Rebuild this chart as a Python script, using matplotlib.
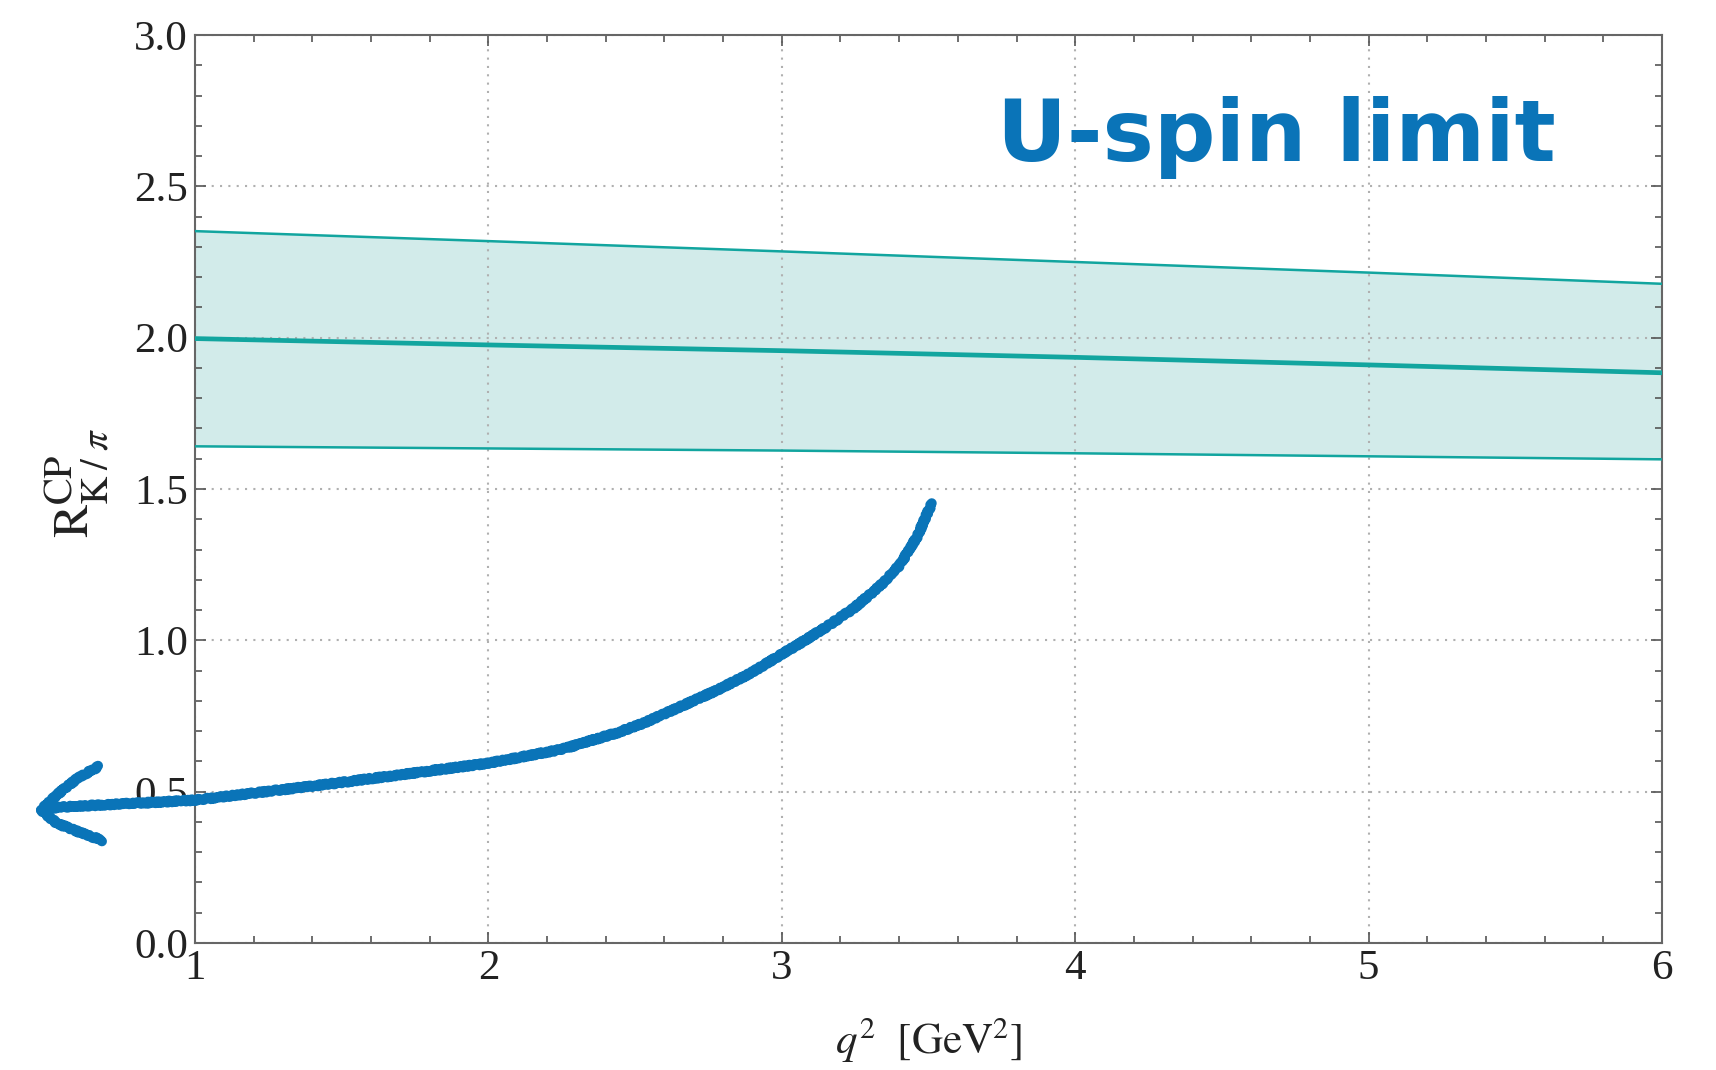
import numpy as np
import matplotlib
matplotlib.use("Agg")
import matplotlib.pyplot as plt
from matplotlib.ticker import MultipleLocator

# --- data ---
q2 = [1.0, 2.0, 3.0, 4.0, 5.0, 6.0]
upper = [2.352, 2.319, 2.285, 2.250, 2.215, 2.178]
central = [1.997, 1.976, 1.957, 1.935, 1.910, 1.884]
lower = [1.641, 1.634, 1.627, 1.618, 1.608, 1.598]

arrow_x = [3.511, 3.460, 3.403, 3.335, 3.244, 3.153, 3.062, 3.001, 2.891, 2.778,
           2.664, 2.530, 2.440, 2.250, 2.000, 1.480, 1.000, 0.560, 0.500]
arrow_y = [1.453, 1.340, 1.250, 1.180, 1.105, 1.045, 0.990, 0.955, 0.890, 0.835,
           0.785, 0.727, 0.695, 0.640, 0.594, 0.528, 0.472, 0.450, 0.445]
barb_up_x = [0.475, 0.53, 0.60, 0.671]
barb_up_y = [0.439, 0.490, 0.545, 0.583]
barb_dn_x = [0.475, 0.53, 0.61, 0.684]
barb_dn_y = [0.439, 0.395, 0.365, 0.339]

xticks = [1, 2, 3, 4, 5, 6]
yticks = [0.0, 0.5, 1.0, 1.5, 2.0, 2.5, 3.0]

plt.rcParams['mathtext.fontset'] = 'stix'
plt.rcParams['font.family'] = ['Liberation Serif', 'DejaVu Serif']

teal = '#12a59f'
fill = '#d2ebea'
blue = '#0a74b8'

W, H = 1716, 1070
fig = plt.figure(figsize=(W / 100, H / 100), dpi=100)
ax = fig.add_axes([195/W, 1 - 943/H, (1662-195)/W, (943-35)/H])

ax.fill_between(q2, lower, upper, color=fill, lw=0, zorder=1)
ax.plot(q2, upper, color=teal, lw=1.8, zorder=3)
ax.plot(q2, lower, color=teal, lw=1.8, zorder=3)
ax.plot(q2, central, color=teal, lw=3.4, zorder=3)

ax.set_xlim(1, 6)
ax.set_ylim(0, 3)
ax.set_xticks(xticks)
ax.set_yticks(yticks)
ax.set_xticklabels([str(t) for t in xticks])
ax.set_yticklabels([f"{t:.1f}" for t in yticks])
ax.xaxis.set_minor_locator(MultipleLocator(0.2))
ax.yaxis.set_minor_locator(MultipleLocator(0.1))
ax.tick_params(which='both', direction='in', top=True, right=True, colors='#555555',
               labelcolor='#222222', labelsize=31, width=1.2)
ax.tick_params(which='major', length=8, pad=5)
ax.tick_params(which='minor', length=5)
ax.grid(True, which='major', color='#b0b0b0', linestyle=(0, (1, 3)), lw=1.5, zorder=0)
for s in ax.spines.values():
    s.set_color('#666666')
    s.set_linewidth(1.5)

ax.set_xlabel(r'$q^2\ \ [\mathrm{GeV}^2]$', fontsize=31, labelpad=20, color='#222222')

# y label built from pieces (large super/subscripts as in the reference)
lab = dict(rotation=90, color='#222222', ha='center', va='bottom')
fig.text(76/W, 1 - 538/H, r'$\mathrm{R}$', fontsize=36, **lab)
fig.text(62/W, 1 - 505/H, r'$\mathrm{CP}$', fontsize=29, **lab)
fig.text(98/W, 1 - 505/H, r'$\mathrm{K}\;/\;\pi$', fontsize=28, **lab)

# hand-drawn annotation
kw = dict(color=blue, lw=7.2, solid_capstyle='round', solid_joinstyle='round',
          clip_on=False, zorder=5)
l1, = ax.plot(arrow_x, arrow_y, **kw)
l2, = ax.plot(barb_up_x, barb_up_y, **kw)
l3, = ax.plot(barb_dn_x, barb_dn_y, **kw)
for l in (l1, l2, l3):
    l.set_sketch_params(scale=1.0, length=6, randomness=3)

ax.text(4.684, 2.66, 'U-spin limit', fontsize=62, color=blue, ha='center', va='center',
        family=['DejaVu Sans'], fontweight='bold', zorder=6)

fig.savefig('out.png', dpi=100)
